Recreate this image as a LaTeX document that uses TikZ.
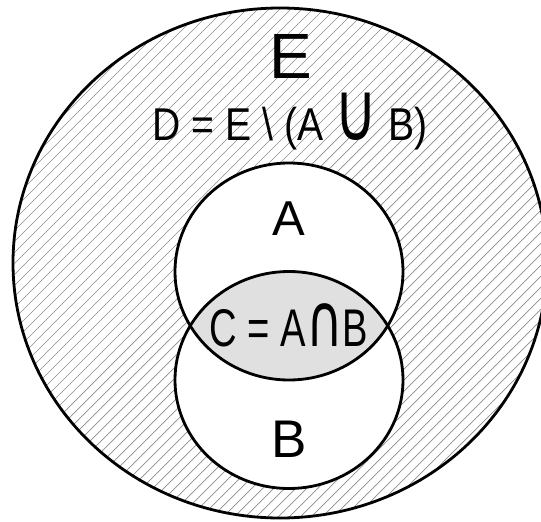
\documentclass[tikz,border=0pt]{standalone}
\usepackage{fontspec}
\setmainfont{Liberation Sans}
\newfontfamily\narrowD[FakeStretch=0.85]{Liberation Sans}
\newfontfamily\narrowC[FakeStretch=0.72]{Liberation Sans}
\newfontfamily\symU[FakeStretch=0.72]{DejaVu Sans}
\newfontfamily\symN[FakeStretch=0.68]{DejaVu Sans}
\definecolor{lensgray}{HTML}{E0E0E0}
\definecolor{hatchgray}{HTML}{8C8C8C}
\tikzset{
  setline/.style={line width=2.8pt, black},
  hatchline/.style={line width=0.7pt, hatchgray},
  lbl/.style={anchor=base, inner sep=0pt, outer sep=0pt},
}
\begin{document}
\begin{tikzpicture}[x=1pt,y=-1pt]
\useasboundingbox (0,0) rectangle (541,522);
\clip (0,0) rectangle (541,522);
% hatching of E outside A and B
\begin{scope}
  \clip (280,263) ellipse [x radius=267, y radius=255];
  \foreach \i in {-560,-549,...,560}
    \draw[hatchline] (\i,530) -- ++(560,-560);
\end{scope}
% white interiors of A and B
\fill[white] (289,271.5) ellipse [x radius=114, y radius=108.5];
\fill[white] (289,380) ellipse [x radius=114, y radius=108.5];
% lens C
\begin{scope}
  \clip (289,271.5) ellipse [x radius=114, y radius=108.5];
  \fill[lensgray] (289,380) ellipse [x radius=114, y radius=108.5];
\end{scope}
% outlines
\draw[setline] (280,263) ellipse [x radius=267, y radius=255];
\draw[setline] (289,271.5) ellipse [x radius=114, y radius=108.5];
\draw[setline] (289,380) ellipse [x radius=114, y radius=108.5];
% labels
\node[lbl, font=\fontsize{64}{64}\selectfont] (lE) at (291,78) {E};
\node[lbl, font=\narrowD\fontsize{46}{46}\selectfont] (lD) at (290,140)
  {D = E \textbackslash\ (A {\symU\fontsize{82}{82}\selectfont ∪} B)};
\node[lbl, font=\fontsize{49}{49}\selectfont] (lA) at (289,235) {A};
\node[lbl, font=\narrowC\fontsize{53}{53}\selectfont] (lC) at (289,346)
  {C = A{\symN\fontsize{74}{74}\selectfont ∩}B};
\node[lbl, font=\fontsize{53}{53}\selectfont] (lB) at (289,457) {B};
\end{tikzpicture}
\end{document}
